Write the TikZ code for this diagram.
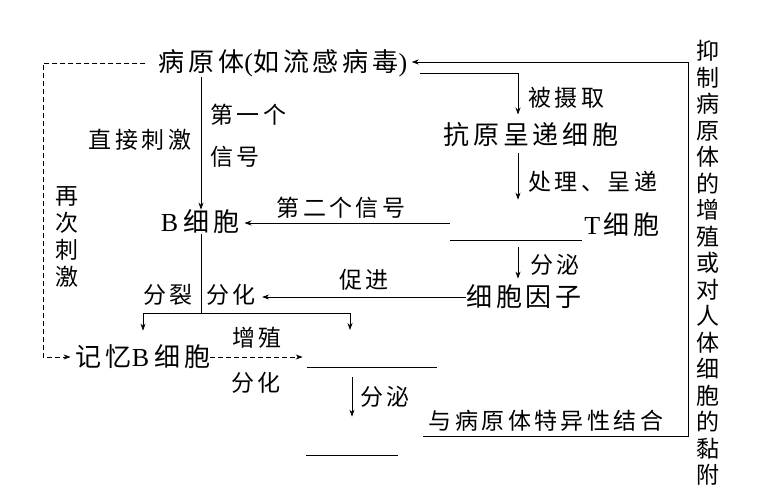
\documentclass[tikz,border=0pt]{standalone}
\usepackage{fontspec}
\usetikzlibrary{arrows.meta,positioning,calc}
\newfontfamily\cjk{Noto Sans CJK SC}[LetterSpace=15]
\newfontfamily\lat{Liberation Serif}
\newcommand{\bigf}{\cjk\fontsize{26}{30}\selectfont}
\newcommand{\smallf}{\cjk\fontsize{23}{27}\selectfont}
\newcommand{\lB}{{\lat B}\hspace{5pt}}
\newcommand{\lT}{{\lat T}\hspace{3pt}}

\begin{document}
\begin{tikzpicture}[x=1pt,y=-1pt,line width=0.7pt,
  big/.style={font=\bigf,inner sep=0pt},
  sml/.style={font=\smallf,inner sep=0pt},
  blank/.style={inner sep=0pt},
  ar/.style={-{Stealth[length=7pt,width=5pt]}},
  da/.style={ar,dash pattern=on 5pt off 3pt}
]
\useasboundingbox (0,0) rectangle (762,499);
% main cells
\node[big] (byt) at (283,63) {病原体{\lat (}如流感病毒{\lat )}};
\node[big] (apc) at (531,135) {抗原呈递细胞};
\node[blank,minimum width=132pt,minimum height=40pt] (tb) at (516,220) {};
\node[big,anchor=west] (tc) at (584,225) {\lT 细胞};
\node[big] (bc) at (200,222) {\lB 细胞};
\node[big] (yz) at (524,297) {细胞因子};
\node[big] (jy) at (143,357) {记忆\lB 细胞};
\node[blank,minimum width=130pt,minimum height=30pt] (pb) at (372,352) {};
\node[blank,minimum width=91pt,minimum height=36pt] (ab) at (352,437) {};
\node[sml] (jh) at (546,421) {与病原体特异性结合};
% labels
\node[sml] (zj) at (140,140) {直接刺激};
\node[sml,anchor=west] (d1) at (210,115) {第一个};
\node[sml,anchor=west] (xh) at (210,157) {信号};
\node[sml] (d2) at (341,208) {第二个信号};
\node[sml,anchor=west] (bsq) at (528,98) {被摄取};
\node[sml,anchor=west] (cl) at (528,182) {处理、呈递};
\node[sml,anchor=west] (fm1) at (530,265) {分泌};
\node[sml] (cj) at (364,280) {促进};
\node[sml] (fl) at (168,295) {分裂};
\node[sml] (fh1) at (231,295) {分化};
\node[sml] (zz) at (257,338) {增殖};
\node[sml] (fh2) at (256,383) {分化};
\node[sml,anchor=west] (fm2) at (360,397) {分泌};
\node[sml,align=center] (zc) at (67,237) {再\\次\\刺\\激};
\node[sml,align=center,font=\cjk\fontsize{23}{26.5}\selectfont] (yzh) at (708,263)
  {抑\\制\\病\\原\\体\\的\\增\\殖\\或\\对\\人\\体\\细\\胞\\的\\黏\\附};
% connectors
\coordinate (lf) at (43,63);
\coordinate (k) at (518,0);
\coordinate (sp) at (201,313);
\coordinate (pa) at (350,330);
\coordinate (rt) at (688,62);
\draw[da] ($(byt.west)+(-13,0)$) -- (lf) |- ($(jy.west)+(-5,0)$);
\draw[ar] (sp |- byt.south) -- (sp |- bc.north);
\draw[ar] ($(byt.east)+(12,10)$) -| ($(apc.north -| k)+(0,-8)$);
\draw[ar] ($(apc.south -| k)+(0,5)$) -- (tb.north -| k);
\draw[ar] ($(tb.west)+(0,3)$) -- ($(bc.east |- tb.west)+(5,3)$);
\draw (tb.south west) -- (tb.south east);
\draw[ar] ($(tb.south -| k)+(0,7)$) -- ($(yz.north -| k)+(0,-6)$);
\draw[ar] (yz.west) -- ($(fh1.east |- yz.west)+(6,0)$);
\draw (sp |- bc.south) -- (sp);
\draw[ar] (sp) -| ($(jy.north)+(0,-14)$);
\draw[ar] (sp) -| (pa);
\draw[da] (jy.east) -- ($(pb.west |- jy.east)+(-4,0)$);
\draw (pb.south west) -- (pb.south east);
\draw[ar] ($(pb.south -| ab.north)+(0,10)$) -- ($(ab.north)+(0,-2)$);
\draw (ab.south west) -- (ab.south east);
\draw[ar] ($(jh.south west)+(-5,4)$) -| (rt) -- ($(byt.east |- rt)+(4,0)$);
\end{tikzpicture}
\end{document}
